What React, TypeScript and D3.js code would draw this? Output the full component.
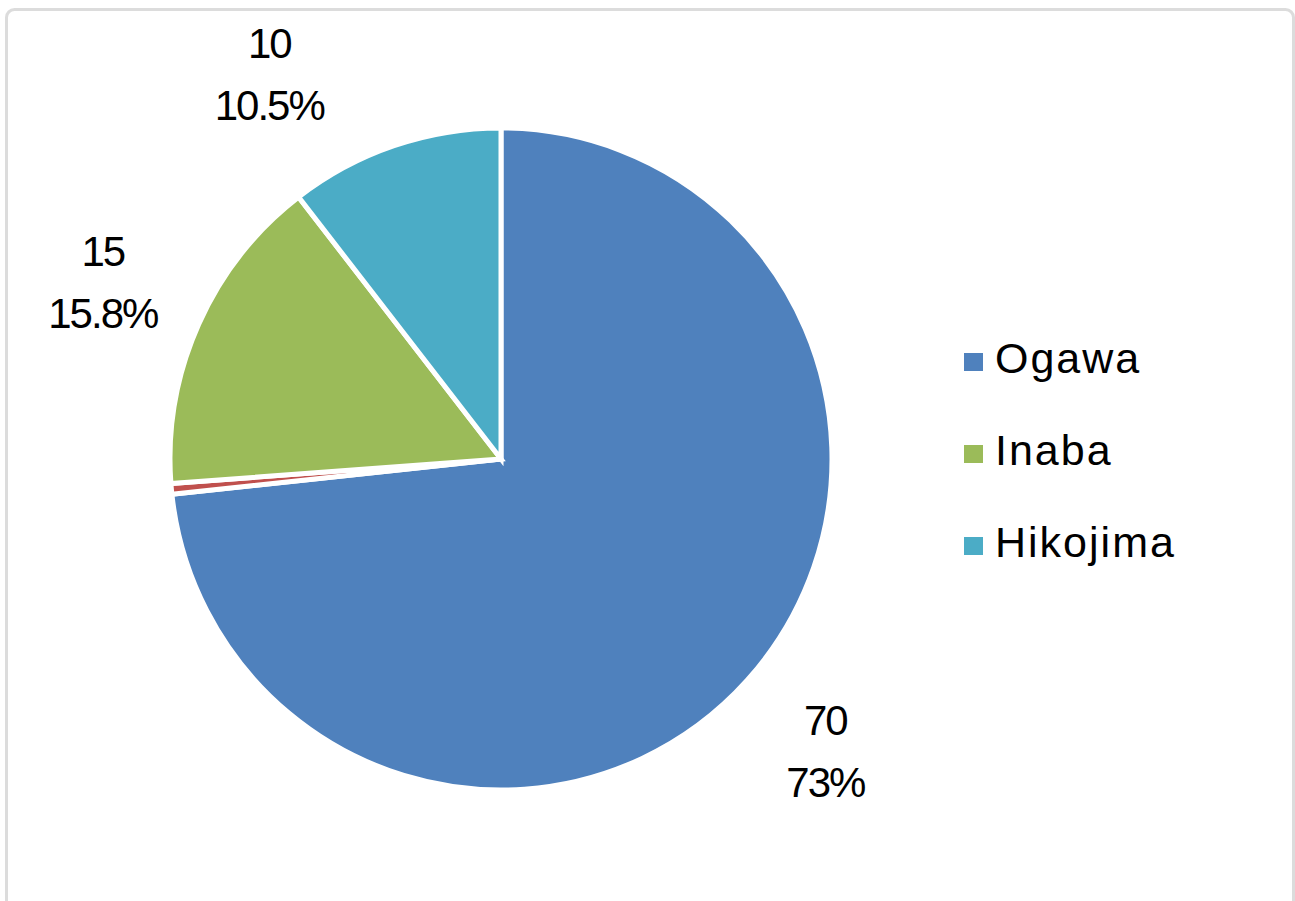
import { useEffect, useRef } from "react";
import * as d3 from "d3";

// slices in drawing order, clockwise from 12 o'clock
const names = ["Ogawa", "Other", "Inaba", "Hikojima"];
const values = [70, 0.5, 15, 10];
const valueLabels = ["70", "", "15", "10"];
const pctLabels = ["73%", "", "15.8%", "10.5%"];
const colors = ["#4F81BD", "#C0504D", "#9BBB59", "#4BACC6"];
const legendNames = ["Ogawa", "Inaba", "Hikojima"];

export default function App() {
  const svgRef = useRef<SVGSVGElement>(null);

  useEffect(() => {
    const svg = d3.select(svgRef.current);
    svg.selectAll("*").remove();

    const width = 1295;
    const height = 901;
    const cx = 501;
    const cy = 459;
    const radius = 331;
    const labelRadius = 436;
    const font = "'Liberation Sans', Arial, sans-serif";

    // chart area frame
    svg
      .append("rect")
      .attr("x", 6.5)
      .attr("y", 9.5)
      .attr("width", width - 8)
      .attr("height", height + 10)
      .attr("rx", 8)
      .attr("fill", "#fff")
      .attr("stroke", "#dcdcdc")
      .attr("stroke-width", 3);

    const pie = d3
      .pie<number>()
      .sort(null)
      .value((d) => d);
    const arcs = pie(values);

    const arc = d3
      .arc<d3.PieArcDatum<number>>()
      .innerRadius(0)
      .outerRadius(radius);

    const g = svg.append("g").attr("transform", `translate(${cx},${cy})`);

    g.selectAll("path")
      .data(arcs)
      .enter()
      .append("path")
      .attr("d", arc)
      .attr("fill", (d, i) => colors[i])
      .attr("stroke", "#fff")
      .attr("stroke-width", 5)
      .attr("stroke-linejoin", "miter");

    // data labels, outside end; top label nudged away from the frame
    const angleOverride: Record<number, number> = { 3: (329 * Math.PI) / 180 };
    const radiusOverride: Record<number, number> = { 3: 450 };

    arcs.forEach((d, i) => {
      if (!valueLabels[i]) return;
      const a = angleOverride[i] ?? (d.startAngle + d.endAngle) / 2;
      const r = radiusOverride[i] ?? labelRadius;
      const lx = Math.sin(a) * r;
      const ly = -Math.cos(a) * r;
      const t = g
        .append("text")
        .attr("text-anchor", "middle")
        .attr("font-family", font)
        .attr("font-size", 42)
        .attr("letter-spacing", -2)
        .attr("fill", "#000");
      t.append("tspan").attr("x", lx).attr("y", ly - 15).text(valueLabels[i]);
      t.append("tspan").attr("x", lx).attr("y", ly + 47).text(pctLabels[i]);
    });

    // legend
    const legend = svg.append("g").attr("transform", "translate(964,373)");
    legendNames.forEach((name, i) => {
      const row = legend.append("g").attr("transform", `translate(0,${i * 92})`);
      row
        .append("rect")
        .attr("x", 0)
        .attr("y", -20)
        .attr("width", 19)
        .attr("height", 18)
        .attr("fill", colors[names.indexOf(name)]);
      row
        .append("text")
        .attr("x", 31)
        .attr("y", 0)
        .attr("font-family", font)
        .attr("font-size", 43)
        .attr("letter-spacing", 2)
        .attr("fill", "#000")
        .text(name);
    });
  }, []);

  return (
    <svg
      ref={svgRef}
      width={1295}
      height={901}
      viewBox="0 0 1295 901"
      style={{ position: "absolute", left: 0, top: 0, display: "block" }}
    />
  );
}
